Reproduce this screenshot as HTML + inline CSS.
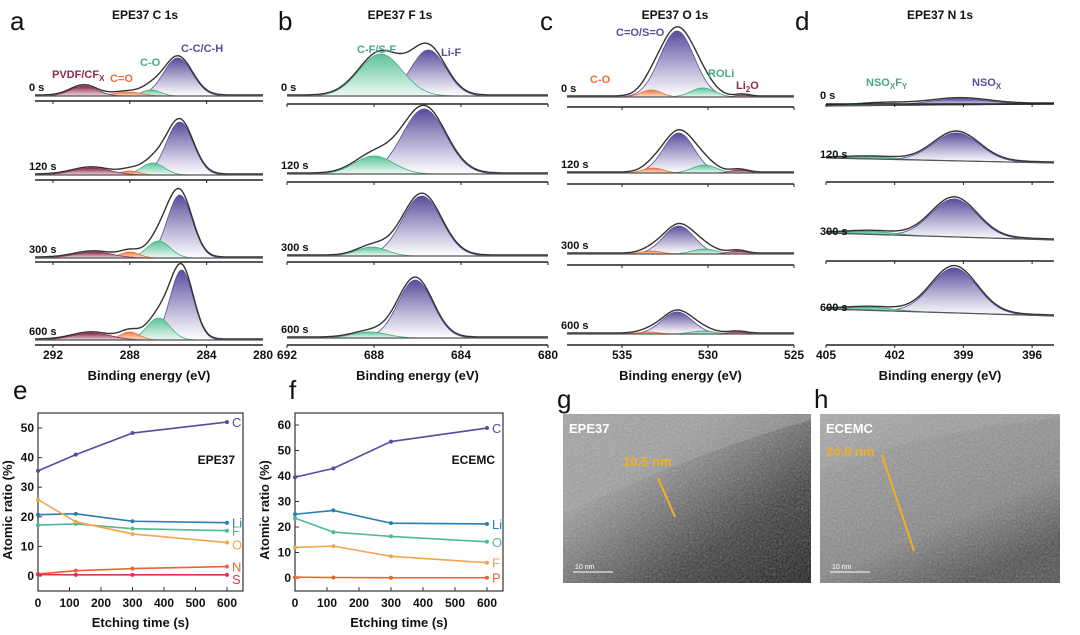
<!DOCTYPE html>
<html><head><meta charset="utf-8"><style>
body{margin:0;background:#fff}
svg{display:block;font-family:"Liberation Sans",Arial,sans-serif}
</style></head><body>
<svg id="fig" width="1080" height="635" viewBox="0 0 1080 635">
<defs>
<linearGradient id="gPur" x1="0" y1="0" x2="0" y2="1"><stop offset="0" stop-color="#5a4c9c"/><stop offset="1" stop-color="#fff" stop-opacity="0.9"/></linearGradient>
<linearGradient id="gGrn" x1="0" y1="0" x2="0" y2="1"><stop offset="0" stop-color="#5cc49a"/><stop offset="1" stop-color="#eef8f3"/></linearGradient>
<linearGradient id="gOrg" x1="0" y1="0" x2="0" y2="1"><stop offset="0" stop-color="#f07a3c"/><stop offset="1" stop-color="#fbe3d5"/></linearGradient>
<linearGradient id="gRed" x1="0" y1="0" x2="0" y2="1"><stop offset="0" stop-color="#8c2a4a"/><stop offset="1" stop-color="#ead8dc"/></linearGradient>
<linearGradient id="temG" x1="0" y1="0" x2="1" y2="1"><stop offset="0" stop-color="#a2a2a2"/><stop offset="0.3" stop-color="#9c9c9c"/><stop offset="0.45" stop-color="#7a7a7a"/><stop offset="0.7" stop-color="#3a3a3a"/><stop offset="1" stop-color="#151515"/></linearGradient>
<linearGradient id="temH" x1="0" y1="0" x2="0.6" y2="1"><stop offset="0" stop-color="#b0b0b0"/><stop offset="0.3" stop-color="#969696"/><stop offset="0.7" stop-color="#858585"/><stop offset="1" stop-color="#4a4a4a"/></linearGradient>
<filter id="noise" x="0" y="0" width="1" height="1" filterUnits="objectBoundingBox"><feTurbulence type="fractalNoise" baseFrequency="0.5" numOctaves="2" result="n"/><feColorMatrix type="saturate" values="0"/><feComponentTransfer><feFuncA type="linear" slope="0.45"/></feComponentTransfer></filter>
<clipPath id="clipG"><rect x="563" y="414" width="248" height="169"/></clipPath>
<clipPath id="clipH"><rect x="820" y="414" width="240" height="169"/></clipPath>
</defs>
</svg>
<script>
// ---------- data: XPS peak components [center eV, height, sigma eV] ----------
const timeLabels = ["0 s","120 s","300 s","600 s"];
const cPeaks = [
 [[285.5,38,0.75],[286.9,6,0.5],[288.1,4,0.7],[290.4,10,0.7]],
 [[285.4,53,0.7],[286.8,12,0.6],[288.0,4,0.5],[290.0,7,1.0]],
 [[285.4,63,0.65],[286.5,17,0.6],[288.0,6,0.5],[289.9,6,1.0]],
 [[285.3,70,0.6],[286.5,22,0.6],[288.0,8,0.5],[290.0,7,1.0]]];
const fPeaks = [
 [[685.5,46,0.8],[687.7,42,1.0]],
 [[685.7,65,1.0],[688.0,18,0.9]],
 [[685.8,60,0.9],[688.1,9,0.7]],
 [[686.1,58,0.8],[688.2,6,0.8]]];
const oPeaks = [
 [[531.8,66,1.0],[533.3,7,0.6],[530.3,9,0.7],[528.0,2,0.4]],
 [[531.7,40,0.9],[533.2,5,0.6],[530.2,8,0.7],[528.2,3,0.5]],
 [[531.7,28,0.9],[533.3,3,0.6],[530.2,5,0.7],[528.3,3,0.5]],
 [[531.8,22,0.9],[533.5,2,0.6],[530.3,3,0.7],[528.3,2,0.5]]];
const nPeaks = [
 [[399.2,6,1.3],[402.5,2,1.0]],
 [[399.3,28,1.0],[403.0,2,1.0]],
 [[399.4,38,1.0],[403.0,3,1.0]],
 [[399.4,45,1.0],[403.0,3,1.0]]];
// ---------- data: atomic ratio ----------
const etchTimes = [0,120,300,600];
const eC=[35.5,41,48.3,52], eLi=[20.7,21,18.5,18], eF=[17.2,17.6,16,15.3], eO=[25.8,18.3,14.2,11.3], eN=[0.7,1.8,2.5,3.2], eS=[0.5,0.4,0.4,0.4];
const fC=[39.5,43,53.5,58.8], fLi=[25,26.5,21.5,21.2], fO=[23.5,18,16.3,14.2], fF=[12,12.5,8.5,6], fP=[0.3,0.2,0.1,0.1];
const xTicksTime=[0,100,200,300,400,500,600];
const eYTicks=[0,10,20,30,40,50], fYTicks=[0,10,20,30,40,50,60];

const svg=document.getElementById('fig');
const NS="http://www.w3.org/2000/svg";
function mk(tag,attrs,parent){const e=document.createElementNS(NS,tag);for(const k in attrs)e.setAttribute(k,attrs[k]);(parent||svg).appendChild(e);return e;}
function txt(x,y,s,size,opts,parent){opts=opts||{};const t=mk('text',{x:x,y:y,'font-size':size,fill:opts.fill||'#111','text-anchor':opts.anchor||'start','font-weight':opts.bold?'bold':'normal'},parent);if(opts.rot)t.setAttribute('transform','rotate(-90 '+x+' '+y+')');t.innerHTML=s;return t;}
function gauss(x,p){return p[1]*Math.exp(-0.5*Math.pow((x-p[0])/p[2],2));}

function xpsPanel(cfg){
  const g=mk('g',{});
  
  
  const xs=e=>cfg.x0+(cfg.e0-e)*cfg.k;
  const eL=cfg.e0-(cfg.left-cfg.x0)/cfg.k, eR=cfg.e0-(cfg.right-cfg.x0)/cfg.k;
  cfg.peaks.forEach((pk,i)=>{
    const base=cfg.bases[i], slope=(cfg.slope||[0,0,0,0])[i];
    const bg=e=>base+slope*(e-eR)/(eL-eR)*-1;
    pk.forEach((p,j)=>{
      let d='';const N=160;
      for(let n=0;n<=N;n++){const e=eL+(eR-eL)*n/N;d+=(n?'L':'M')+xs(e).toFixed(1)+' '+(bg(e)-gauss(e,p)).toFixed(1);}
      const fill=mk('path',{d:d+'Z',fill:cfg.fills[j],stroke:cfg.strokes[j],'stroke-width':0.8},g);
      
      
    });
    let d='';const N=200;
    for(let n=0;n<=N;n++){const e=eL+(eR-eL)*n/N;let s=0;pk.forEach(p=>s+=gauss(e,p));d+=(n?'L':'M')+xs(e).toFixed(1)+' '+(bg(e)-s*1.03-1).toFixed(1);}
    const env=mk('path',{d:d,fill:'none',stroke:'#333','stroke-width':1.4},g);
    
    
    mk('line',{x1:cfg.left,x2:cfg.right,y1:bg(eL),y2:bg(eR),stroke:'#555','stroke-width':1.2},g);
    const ay=cfg.axes[i];
    mk('line',{x1:cfg.left,x2:cfg.right,y1:ay,y2:ay,stroke:'#222','stroke-width':1.6},g);
    cfg.ticks.forEach(t=>mk('line',{x1:xs(t),x2:xs(t),y1:ay,y2:ay+3,stroke:'#222','stroke-width':1},g));
    const lb=txt(cfg.left-6,base-5,timeLabels[i],11,{bold:true},g);
    
    
  });
  cfg.ticks.forEach(t=>{const tl=txt(xs(t),359,String(t),12,{bold:true,anchor:'middle'},g);});
  if(cfg.endLabel){const tl=txt(cfg.right,359,cfg.endLabel,12,{bold:true,anchor:'middle'},g);}
  const xt=txt((cfg.left+cfg.right)/2,380,'Binding energy (eV)',13,{bold:true,anchor:'middle'},g);
  
  const tt=txt(cfg.tx,19,cfg.title,12,{bold:true,anchor:'middle'},g);
  
  const pl=txt(cfg.lx,30,cfg.letter,26,{},g);
  
  return g;
}
const P='url(#gPur)',G='url(#gGrn)',O='url(#gOrg)',R='url(#gRed)';
xpsPanel({name:'panel-a-c1s',peaks:cPeaks,x0:53,e0:292,k:19.2,left:35,right:263,bases:[96,175,258,340],axes:[101,180,262,345],ticks:[292,288,284],endLabel:'280',fills:[P,G,O,R],strokes:['#5a4c9c','#4aa884','#e5703a','#8c2a4a'],title:'EPE37 C 1s',tx:145,letter:'a',lx:10});
xpsPanel({name:'panel-b-f1s',peaks:fPeaks,x0:287,e0:692,k:21.75,left:287,right:548,bases:[96,174,256,338],axes:[104,182,262,345],ticks:[692,688,684,680],fills:[P,G],strokes:['#5a4c9c','#4aa884'],title:'EPE37 F 1s',tx:400,letter:'b',lx:278});
xpsPanel({name:'panel-c-o1s',peaks:oPeaks,x0:622,e0:535,k:17.2,left:567,right:794,bases:[97,173,254,334],axes:[107,184,265,345],ticks:[535,530,525],fills:[P,O,G,R],strokes:['#5a4c9c','#e5703a','#4aa884','#8c2a4a'],title:'EPE37 O 1s',tx:675,letter:'c',lx:540});
xpsPanel({name:'panel-d-n1s',peaks:nPeaks,x0:826,e0:405,k:22.9,left:826,right:1054,bases:[104,163,240,316],slope:[-2,5,7,7],axes:[104,182,261,345],ticks:[405,402,399,396],fills:[P,G],strokes:['#5a4c9c','#4aa884'],title:'EPE37 N 1s',tx:940,letter:'d',lx:795});

// peak annotations
function ann(x,y,s,c,size){const t=txt(x,y,s,size||11,{fill:c,bold:true});}
ann(181,52,'C-C/C-H','#5a4c9c');ann(140,66,'C-O','#4aa884');ann(110,82,'C=O','#e5703a');
ann(52,78,'PVDF/CF<tspan font-size="8" dy="3">X</tspan>','#8c2a4a');
ann(357,53,'C-F/S-F','#4aa884');ann(441,56,'Li-F','#5a4c9c');
ann(616,36,'C=O/S=O','#5a4c9c');ann(590,83,'C-O','#e5703a');ann(708,77,'ROLi','#4aa884');ann(736,89,'Li<tspan font-size="8" dy="3">2</tspan><tspan dy="-3">O</tspan>','#8c2a4a');
ann(866,86,'NSO<tspan font-size="8" dy="3">X</tspan><tspan dy="-3">F</tspan><tspan font-size="8" dy="3">Y</tspan>','#4aa884');ann(972,86,'NSO<tspan font-size="8" dy="3">X</tspan>','#5a4c9c');

// ---------- line charts ----------
function linePanel(cfg){
  const g=mk('g',{});
  
  
  const xs=t=>cfg.x0+t*(cfg.x600-cfg.x0)/600;
  const ys=v=>cfg.y0-v*(cfg.y0-cfg.yTop)/cfg.vTop;
  mk('rect',{x:cfg.left,y:413,width:cfg.right-cfg.left,height:591-413,fill:'none',stroke:'#333','stroke-width':1.2},g);
  xTicksTime.forEach(t=>{mk('line',{x1:xs(t),x2:xs(t),y1:591,y2:587,stroke:'#333'},g);const l=txt(xs(t),607,String(t),12,{bold:true,anchor:'middle'},g);});
  cfg.yTicks.forEach(v=>{mk('line',{x1:cfg.left,x2:cfg.left+4,y1:ys(v),y2:ys(v),stroke:'#333'},g);const l=txt(cfg.left-4,ys(v)+4,String(v),12,{bold:true,anchor:'end'},g);});
  cfg.series.forEach(s=>{
    const pts=s.v.map((v,i)=>xs(etchTimes[i])+','+ys(v)).join(' ');
    const pl=mk('polyline',{points:pts,fill:'none',stroke:s.c,'stroke-width':1.6},g);
    
    
    s.v.forEach((v,i)=>{const c=mk('circle',{cx:xs(etchTimes[i]),cy:ys(v),r:2,fill:s.c},g);});
    const l=txt(xs(600)+5,ys(s.v[3])+5+(s.dy||0),s.n,13,{fill:s.c},g);
    
  });
  const tag=txt(cfg.right-8,cfg.tagY,cfg.tag,12,{bold:true,anchor:'end'},g);
  const xt=txt((cfg.left+cfg.right)/2,627,'Etching time (s)',13,{bold:true,anchor:'middle'},g);
  const yt=txt(cfg.left-26,510,'Atomic ratio (%)',13,{bold:true,anchor:'middle',rot:true},g);
  const pl=txt(cfg.lx,399,cfg.letter,26,{},g);
}
linePanel({name:'panel-e-atomic-ratio',left:38,right:243,x0:38,x600:227,y0:576,yTop:428,vTop:50,yTicks:eYTicks,tag:'EPE37',tagY:464,letter:'e',lx:13,
 series:[{n:'C',v:eC,c:'#5a4aa0'},{n:'Li',v:eLi,c:'#2a7fb0'},{n:'F',v:eF,c:'#4dbb8e'},{n:'O',v:eO,c:'#f2a54e',dy:2},{n:'N',v:eN,c:'#ec6430'},{n:'S',v:eS,c:'#d8345a',dy:4}]});
linePanel({name:'panel-f-atomic-ratio',left:295,right:503,x0:295,x600:487,y0:578,yTop:425,vTop:60,yTicks:fYTicks,tag:'ECEMC',tagY:464,letter:'f',lx:289,
 series:[{n:'C',v:fC,c:'#5a4aa0'},{n:'Li',v:fLi,c:'#2a7fb0'},{n:'O',v:fO,c:'#4dbb8e'},{n:'F',v:fF,c:'#f2a54e'},{n:'P',v:fP,c:'#ec6430'}]});

// ---------- TEM images ----------
function tem(name,clip,x,y,w,h,grad,label,meas,ax1,ay1,ax2,ay2,mx,my,letter,edge){
  const g=mk('g',{'clip-path':clip});
  mk('rect',{x:x,y:y,width:w,height:h,fill:grad},g);
  mk('path',{d:edge,fill:'#a4a4a4',opacity:0.5},g);
  mk('rect',{x:x,y:y,width:w,height:h,filter:'url(#noise)'},g);
  const lt=txt(x+6,y+19,label,13,{bold:true,fill:'#fff'},g);
  
  const mt=txt(mx,my,meas,13,{bold:true,fill:'#f2b020'},g);
  
  mk('line',{x1:ax1,y1:ay1,x2:ax2,y2:ay2,stroke:'#f2b020','stroke-width':2},g);
  mk('line',{x1:x+10,x2:x+50,y1:y+h-11,y2:y+h-11,stroke:'#fff','stroke-width':1},g);
  txt(x+12,y+h-14,'10 nm',7,{fill:'#fff'},g);
  const pl=txt(x-6,y-6,letter,26,{});
}
tem('tem-image-epe37','url(#clipG)',563,414,248,169,'url(#temG)','EPE37','10.5 nm',658,478,675,517,623,466,'g','M563 414 L811 414 L811 420 Q700 450 563 515 Z');
tem('tem-image-ecemc','url(#clipH)',820,414,240,169,'url(#temH)','ECEMC','24.8 nm',882,455,914,551,826,456,'h','M820 414 L1060 414 L1060 418 Q930 430 820 470 Z');
</script>
</body></html>
